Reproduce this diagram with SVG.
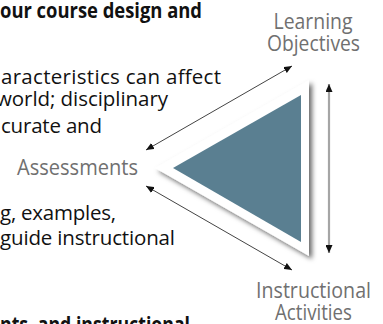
<svg xmlns="http://www.w3.org/2000/svg" width="383" height="324" viewBox="0 0 383 324">
<style>
.body{font-family:"Open Sans","Noto Sans",sans-serif;font-size:20.5px;fill:#111;}
.bold{font-weight:bold;font-size:20.5px;}
.lbl{font-family:"Open Sans","Noto Sans",sans-serif;font-size:21px;fill:#707070;text-anchor:middle;}
.conn{stroke:#444;stroke-width:1;fill:none;}
.vconn{stroke:#a5a5a5;stroke-width:2.2;fill:none;}
</style>
<defs>
<marker id="ah" viewBox="0 0 8 7" refX="8" refY="3.5" markerWidth="8" markerHeight="7" markerUnits="userSpaceOnUse" orient="auto-start-reverse">
<path d="M0,0 L8,3.5 L0,7 z" fill="#111"/>
</marker>
<filter id="sh" x="-20%" y="-20%" width="150%" height="150%">
<feDropShadow dx="3" dy="3" stdDeviation="2.8" flood-color="#000" flood-opacity="0.6"/>
</filter>
</defs>
<rect width="383" height="324" fill="#fff"/>
<g id="text-block">
<text class="body bold" x="0" y="18" textLength="202" lengthAdjust="spacingAndGlyphs">our course design and</text>
<text class="body" x="1" y="84" textLength="220" lengthAdjust="spacing">aracteristics can affect</text>
<text class="body" x="-4" y="106" textLength="172" lengthAdjust="spacing">world;  disciplinary</text>
<text class="body" x="1" y="133" textLength="101" lengthAdjust="spacing">curate and</text>
<text class="body" x="0" y="220" textLength="116" lengthAdjust="spacing">g, examples,</text>
<text class="body" x="0" y="245" textLength="175" lengthAdjust="spacing">guide  instructional</text>
<text class="body bold" x="0" y="332" textLength="190" lengthAdjust="spacingAndGlyphs">nts, and instructional</text>
</g>
<g id="triangle">
<polygon points="155,168 309,80 309,256" fill="#fff" filter="url(#sh)"/>
<polygon points="173,168 301,95 301,242" fill="#5a7f91"/>
</g>
<g id="learning-objectives">
<text class="lbl" x="313" y="29" textLength="79" lengthAdjust="spacingAndGlyphs">Learning</text>
<text class="lbl" x="313.5" y="51" textLength="93" lengthAdjust="spacingAndGlyphs">Objectives</text>
</g>
<g id="assessments">
<text class="lbl" x="77.5" y="175" textLength="121" lengthAdjust="spacingAndGlyphs">Assessments</text>
</g>
<g id="instructional-activities">
<text class="lbl" x="313.5" y="298" textLength="115" lengthAdjust="spacingAndGlyphs">Instructional</text>
<text class="lbl" x="313.5" y="320" textLength="77" lengthAdjust="spacingAndGlyphs">Activities</text>
</g>
<g id="connectors">
<line class="conn" x1="146" y1="150" x2="292" y2="66" marker-start="url(#ah)" marker-end="url(#ah)"/>
<line class="conn" x1="146" y1="186" x2="292" y2="270" marker-start="url(#ah)" marker-end="url(#ah)"/>
<line class="vconn" x1="329" y1="84" x2="329" y2="253" marker-start="url(#ah)" marker-end="url(#ah)"/>
</g>
</svg>
